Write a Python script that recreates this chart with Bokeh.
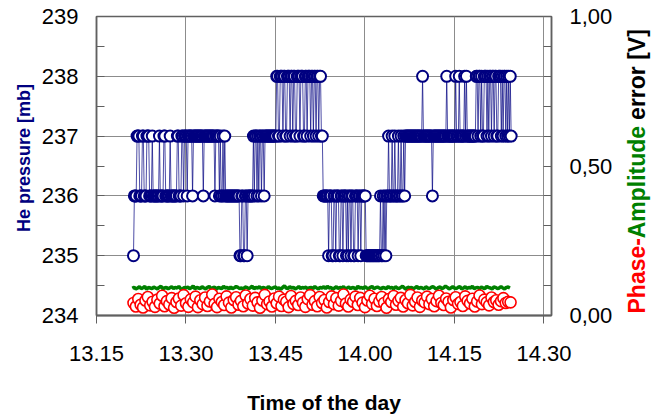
import numpy as np
from bokeh.plotting import figure
from bokeh.layouts import row
from bokeh.models import Range1d, LinearAxis, FixedTicker, CustomJSTickFormatter, ColumnDataSource
from bokeh.core.properties import value
from bokeh.embed import file_html
from bokeh.resources import INLINE

# ---------------- data ----------------
# time axis in minutes after 13:15
X_TICKS = [0, 15, 30, 45, 60, 75]
X_TICK_LABELS = ["13.15", "13.30", "13.45", "14.00", "14.15", "14.30"]
P_TICKS = [234, 235, 236, 237, 238, 239]
P_MINOR = [234.5, 235.5, 236.5, 237.5, 238.5]
ERR_TICKS = [0.0, 0.5, 1.0]
ERR_MINOR = [0.1, 0.2, 0.3, 0.4, 0.6, 0.7, 0.8, 0.9]

P_START_MIN = 6.2
P_STEP_MIN = 0.15
he_pressure = [
    235, 236, 236, 236, 237, 237, 237, 236, 236, 236, 237, 237, 236, 236, 236, 237, 237, 237, 236, 236,
    236, 237, 236, 236, 236, 236, 236, 236, 236, 237, 236, 236, 236, 236, 237, 237, 236, 236, 236, 236,
    236, 237, 236, 236, 236, 236, 236, 236, 236, 237, 237, 236, 236, 236, 237, 237, 236, 237, 237, 237,
    236, 237, 237, 237, 237, 237, 236, 237, 237, 237, 237, 237, 237, 237, 237, 237, 237, 237, 236, 237,
    237, 237, 237, 237, 237, 237, 237, 237, 237, 237, 237, 236, 237, 237, 237, 237, 236, 237, 236, 236,
    237, 236, 237, 236, 236, 236, 236, 236, 236, 236, 236, 236, 236, 236, 236, 236, 236, 236, 236, 235,
    235, 236, 236, 235, 235, 236, 236, 235, 236, 236, 236, 236, 236, 236, 237, 236, 237, 237, 236, 237,
    236, 237, 237, 236, 237, 237, 236, 237, 237, 237, 237, 237, 237, 237, 237, 237, 237, 237, 237, 237,
    238, 238, 237, 237, 238, 238, 238, 237, 238, 238, 237, 237, 238, 238, 238, 237, 238, 238, 237, 238,
    238, 237, 237, 238, 238, 238, 237, 238, 238, 238, 237, 237, 238, 238, 237, 238, 238, 238, 237, 238,
    238, 237, 238, 238, 237, 238, 238, 237, 238, 238, 237, 237, 236, 236, 236, 236, 236, 236, 235, 236,
    236, 236, 235, 235, 236, 236, 235, 236, 236, 236, 235, 235, 236, 236, 235, 236, 236, 236, 235, 236,
    235, 236, 236, 235, 236, 236, 235, 235, 236, 236, 236, 235, 236, 236, 235, 236, 236, 236, 236, 236,
    235, 235, 235, 235, 235, 235, 235, 235, 235, 235, 235, 235, 235, 235, 235, 235, 236, 235, 235, 236,
    235, 236, 235, 236, 236, 237, 236, 236, 236, 237, 236, 236, 237, 236, 236, 236, 237, 236, 236, 237,
    236, 236, 237, 236, 237, 237, 237, 237, 237, 237, 237, 237, 237, 237, 237, 237, 237, 237, 237, 237,
    237, 237, 237, 238, 237, 237, 237, 237, 237, 237, 237, 237, 237, 237, 236, 237, 237, 237, 237, 237,
    237, 237, 237, 237, 237, 237, 237, 237, 237, 237, 238, 237, 237, 237, 237, 237, 237, 237, 237, 237,
    238, 237, 237, 237, 238, 237, 237, 237, 237, 237, 238, 237, 238, 237, 237, 237, 237, 237, 237, 237,
    237, 237, 237, 238, 238, 237, 238, 238, 237, 238, 237, 237, 238, 238, 238, 237, 238, 237, 238, 238,
    237, 238, 238, 237, 238, 238, 237, 237, 238, 238, 238, 237, 238, 237, 238, 238, 237, 238, 237, 238,
    237, 238, 237,
]

PHASE_START_MIN = 6.2
PHASE_STEP_MIN = 0.4
phase_error_mV = [
    42, 30, 55, 36, 27, 50, 62, 34, 46, 29,
    53, 40, 66, 31, 48, 37, 58, 26, 45, 57,
    33, 68, 41, 29, 54, 44, 63, 28, 51, 38,
    60, 32, 47, 70, 39, 28, 56, 45, 35, 64,
    43, 27, 52, 61, 36, 49, 31, 67, 40, 55,
    33, 59, 44, 26, 50, 69, 38, 47, 30, 57,
    41, 63, 32, 53, 46, 28, 65, 39, 49, 35,
    60, 43, 29, 55, 68, 36, 48, 31, 62, 42,
    52, 27, 45, 64, 38, 58, 33, 49, 70, 40,
    30, 53, 46, 63, 35, 59, 43, 28, 50, 66,
    39, 56, 32, 47, 62, 42, 26, 55, 45, 65,
    36, 49, 59, 30, 52, 41, 69, 34, 46, 60,
    29, 50, 44, 63, 38, 55, 31, 48, 66, 42,
    35, 57, 46, 27, 52, 61, 39, 45, 32, 64,
    49, 40, 56, 30, 47, 67, 38, 53, 44, 34,
    60, 45, 51, 36, 48, 58, 42, 46, 44,
]

AMP_START_MIN = 6.0
AMP_STEP_MIN = 0.3
amplitude_error_mV = [
    91, 94, 89, 92, 96, 90, 93, 97, 88, 94, 92, 90, 95, 92, 89, 94, 98, 90, 92, 94,
    89, 93, 96, 90, 94, 92, 97, 90, 88, 94, 92, 95, 90, 93, 99, 89, 94, 92, 90, 96,
    92, 89, 94, 97, 90, 93, 95, 88, 94, 92, 90, 98, 92, 94, 89, 95, 90, 93, 97, 94,
    90, 92, 88, 95, 94, 90, 93, 98, 89, 94, 92, 96, 90, 94, 92, 89, 97, 92, 90, 94,
    95, 90, 92, 88, 94, 99, 92, 90, 96, 92, 94, 89, 92, 97, 90, 94, 92, 95, 88, 93,
    94, 90, 97, 92, 89, 94, 92, 96, 90, 98, 92, 94, 88, 92, 96, 90, 94, 92, 97, 89,
    92, 95, 90, 94, 92, 88, 98, 92, 94, 90, 96, 92, 89, 94, 97, 90, 93, 95, 92, 89,
    94, 92, 90, 97, 92, 94, 89, 96, 92, 90, 94, 98, 92, 88, 95, 92, 94, 90, 93, 97,
    90, 94, 92, 89, 96, 92, 90, 94, 97, 92, 88, 94, 95, 90, 93, 98, 94, 89, 92, 96,
    92, 90, 94, 97, 89, 92, 96, 90, 94, 92, 98, 90, 93, 94, 89, 95, 92, 90, 97, 94,
    92, 89, 95, 94, 90, 92, 97, 92, 89, 94, 95, 92,
]

LEFT_TITLE = "He pressure [mb]"
BOTTOM_TITLE = "Time of the day"
RIGHT_TITLE_PARTS = ["Phase-", "Amplitude", "error [V]"]
RIGHT_TITLE_COLORS = ["#ff0000", "#008000", "black"]

# ---------------- derived arrays ----------------
t_p = P_START_MIN + P_STEP_MIN * np.arange(len(he_pressure))
t_ph = PHASE_START_MIN + PHASE_STEP_MIN * np.arange(len(phase_error_mV))
t_am = AMP_START_MIN + AMP_STEP_MIN * np.arange(len(amplitude_error_mV))
phase_V = np.array(phase_error_mV) / 1000.0
amp_V = np.array(amplitude_error_mV) / 1000.0

FONT = "Liberation Sans"
NAVY = "#000080"
AXIS_COL = "#606060"
GRID_COL = "#8c8c8c"

p = figure(width=584, height=416, output_backend="svg", toolbar_location=None,
           x_range=Range1d(0, 76.26), y_range=Range1d(234, 239),
           min_border_left=60, min_border_right=69, min_border_top=16,
           min_border_bottom=100, background_fill_color="white",
           border_fill_color="white")
p.outline_line_color = AXIS_COL
p.outline_line_width = 1.5

p.extra_y_ranges = {"err": Range1d(0, 1)}

# grids
p.xgrid.ticker = FixedTicker(ticks=X_TICKS)
p.ygrid.ticker = FixedTicker(ticks=P_TICKS)
p.xgrid.grid_line_color = GRID_COL
p.ygrid.grid_line_color = GRID_COL

# x axis
xa = p.xaxis[0]
xa.ticker = FixedTicker(ticks=X_TICKS, minor_ticks=[])
xa.major_label_overrides = {k: v for k, v in zip(X_TICKS, X_TICK_LABELS)}
xa.major_tick_in = 0
xa.major_tick_out = 8
xa.axis_line_color = AXIS_COL
xa.axis_line_width = 2
xa.major_tick_line_color = AXIS_COL
xa.major_label_text_font = FONT
xa.major_label_text_font_size = "22px"
xa.major_label_text_color = "black"
xa.major_label_standoff = 22
xa.axis_label = BOTTOM_TITLE
xa.axis_label_text_font = FONT
xa.axis_label_text_font_style = "bold"
xa.axis_label_text_font_size = "21px"
xa.axis_label_text_color = "black"
xa.axis_label_standoff = 27

# left axis
ya = p.yaxis[0]
ya.ticker = FixedTicker(ticks=P_TICKS, minor_ticks=P_MINOR)
ya.major_tick_in = 8
ya.major_tick_out = 0
ya.minor_tick_in = 8
ya.minor_tick_out = 0
ya.axis_line_color = AXIS_COL
ya.axis_line_width = 1.5
ya.major_tick_line_color = AXIS_COL
ya.minor_tick_line_color = AXIS_COL
ya.major_label_text_font = FONT
ya.major_label_text_font_size = "22px"
ya.major_label_text_color = "black"
ya.major_label_standoff = 18

# right axis
ra = LinearAxis(y_range_name="err")
ra.ticker = FixedTicker(ticks=ERR_TICKS, minor_ticks=ERR_MINOR)
ra.formatter = CustomJSTickFormatter(code="return tick.toFixed(2).replace('.', ',');")
ra.major_tick_in = 8
ra.major_tick_out = 0
ra.minor_tick_in = 8
ra.minor_tick_out = 0
ra.axis_line_color = AXIS_COL
ra.axis_line_width = 1.5
ra.major_tick_line_color = AXIS_COL
ra.minor_tick_line_color = AXIS_COL
ra.major_label_text_font = FONT
ra.major_label_text_font_size = "22px"
ra.major_label_text_color = "black"
ra.major_label_standoff = 18
p.add_layout(ra, "right")

# data
p.line(t_am, amp_V, y_range_name="err", line_color="#008000", line_width=3.5)
p.scatter(t_ph, phase_V, y_range_name="err", marker="circle", size=11,
          line_color="#ff0000", line_width=1.6, fill_color="white")
p.line(t_p, he_pressure, line_color=NAVY, line_width=1, line_alpha=0.7)
p.scatter(t_p, he_pressure, marker="circle", size=11, line_color=NAVY,
          line_width=2, fill_color="white")


def side_panel(width):
    f = figure(width=width, height=416, output_backend="svg", toolbar_location=None,
               x_range=Range1d(0, width), y_range=Range1d(100, 400),
               x_axis_location=None, y_axis_location=None,
               min_border_left=0, min_border_right=0, min_border_top=16,
               min_border_bottom=100,
               background_fill_color="white", border_fill_color="white")
    f.outline_line_color = None
    f.grid.visible = False
    return f


# left title (panel frame rows 16..316, y = 416 - pixel row)
lft = side_panel(36)
lft.text(x=[23], y=[416 - 158], text=[LEFT_TITLE], angle=np.pi / 2,
         text_align="center", text_baseline="middle", text_font=value(FONT),
         text_font_style="bold", text_font_size="18px", text_color=NAVY)

# right multi-coloured title
RS = 23
EM = [3.279, 4.889 + 0.278, 4.223]
ys = []
y0 = 416 - 314
for e in EM:
    ys.append(y0)
    y0 += e * RS
q = side_panel(36)
src = ColumnDataSource(dict(x=[16, 16, 16], y=ys, text=RIGHT_TITLE_PARTS,
                            color=RIGHT_TITLE_COLORS))
q.text(x="x", y="y", text="text", text_color="color", source=src, angle=np.pi / 2,
       text_align="left", text_baseline="middle", text_font=value(FONT),
       text_font_style="bold", text_font_size=f"{RS}px")

layout = row(lft, p, q, spacing=0)
open("out.html", "w").write(file_html(layout, INLINE))
